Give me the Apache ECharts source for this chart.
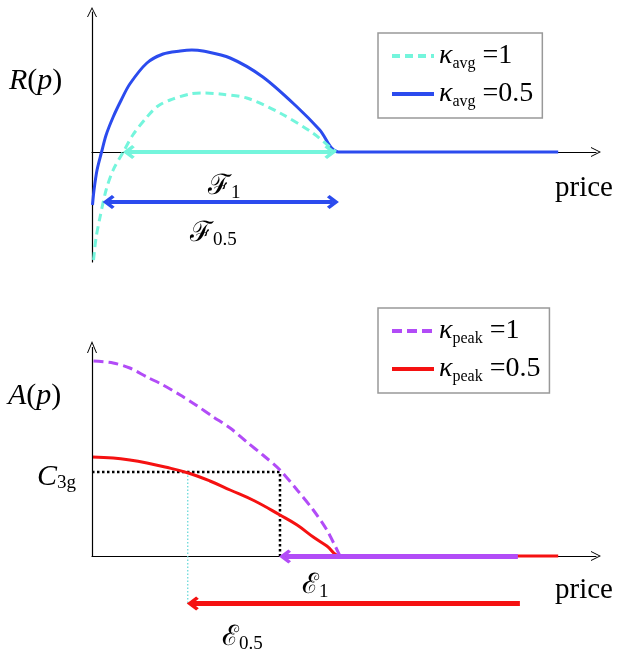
<!DOCTYPE html>
<html>
<head>
<meta charset="utf-8">
<script src="https://cdn.jsdelivr.net/npm/echarts@6/dist/echarts.min.js"></script>
<style>
html, body { margin: 0; padding: 0; background: #fff; }
#chart { width: 623px; height: 655px; }
</style>
</head>
<body>
<div id="chart"></div>
<script>
// price runs 0..100 on both panels, R(p) / A(p) in arbitrary units
const priceMax = 100

// R(p) curves, [price, R]
const revAvg1 = [
  [0.3, -108], [0.8, -86], [1.6, -65], [2.8, -38], [4.2, -18], [6.2, 0],
  [8.1, 17], [10.9, 35], [13.1, 46], [15.5, 52], [19.4, 58], [22.4, 59],
  [25.4, 58], [30.7, 54], [37.3, 39], [43.8, 19], [47.9, 2], [48.4, 0]
]
const revAvg05 = [
  [0.1, -53], [0.4, -38], [1, -18], [1.9, 0], [2.8, 17], [4.2, 35],
  [5.8, 52], [7.5, 68], [10.9, 89], [14.1, 98], [17.5, 101], [19.8, 102],
  [22, 101], [27.4, 94], [33.9, 75], [40.7, 45], [45.2, 22], [48.9, 0],
  [92.5, 0]
]

// A(p) curves, [price, A]
const accPeak1 = [
  [0.3, 195], [4.2, 193], [7.5, 188], [10.9, 179], [14.1, 171], [17.5, 161],
  [20.6, 151], [24.1, 139], [27.4, 128], [30.7, 114], [33.9, 101], [37.3, 86],
  [40.7, 66], [43.9, 46], [46.6, 26], [49.2, 0]
]
const accPeak05 = [
  [0, 99], [4.2, 98], [7.5, 96], [10.9, 93], [14.5, 89], [19.1, 83],
  [23.4, 75], [27.4, 66], [32.3, 55], [37.3, 41], [40.7, 31], [43.9, 19],
  [46.6, 10], [49.2, 0], [92.5, 0]
]

// annotations
const c3g = 84
const e1Price = 37.3
const e05Price = 19.0
const f1Range = [7.3, 47.3]
const f05Range = [3.3, 47.8]
const f05Level = -50
const eStart = 84.5
const e05Level = -47.5

const cyan = '#74F5DC'
const blue = '#2B4BEE'
const purple = '#B24CF7'
const red = '#F51111'
const serif = "'Liberation Serif', 'DejaVu Serif', serif"

// open chevrons pointing up (rotated by echarts)
const headThin = 'path://M0,10 L5,0 L10,10 L9,10 L5,2 L1,10 Z'
const headBold = 'path://M6,0 L12,7 L10,9 L6,4.5 L2,9 L0,7 Z'

const legendText = {
  avg1: '{k|κ}{s|avg}{e| =1}',
  avg05: '{k|κ}{s|avg}{e| =0.5}',
  peak1: '{k|κ}{s|peak}{e| =1}',
  peak05: '{k|κ}{s|peak}{e| =0.5}'
}
const legendRich = {
  k: { fontFamily: serif, fontStyle: 'italic', fontSize: 28, lineHeight: 32, color: '#000' },
  s: { fontFamily: serif, fontSize: 16, lineHeight: 16, padding: [16, 0, 0, 0], color: '#000' },
  e: { fontFamily: serif, fontSize: 28, lineHeight: 32, color: '#000' }
}

function makeLegend (names, top) {
  return {
    data: names,
    left: 378,
    top: top,
    orient: 'vertical',
    itemWidth: 42,
    itemHeight: 12,
    itemGap: 6,
    padding: [7, 9, 8, 12],
    borderColor: '#999',
    borderWidth: 1.5,
    selectedMode: false,
    itemStyle: { opacity: 0 },
    lineStyle: { width: 4 },
    formatter: n => legendText[n],
    textStyle: { rich: legendRich }
  }
}

function axisX (gi) {
  return {
    gridIndex: gi,
    type: 'value',
    min: 0,
    max: priceMax,
    axisLine: {
      onZero: true,
      symbol: ['none', headThin],
      symbolSize: [10, 12],
      lineStyle: { color: '#000', width: 1.2 }
    },
    axisTick: { show: false },
    axisLabel: { show: false },
    splitLine: { show: false }
  }
}

function arrow (gi, from, to, color, width, both) {
  return {
    type: 'line',
    xAxisIndex: gi,
    yAxisIndex: gi,
    data: [],
    silent: true,
    markLine: {
      silent: true,
      symbol: [both ? headBold : 'none', headBold],
      symbolSize: [14, 12],
      label: { show: false },
      emphasis: { disabled: true },
      lineStyle: { color: color, width: width, type: 'solid' },
      data: [[{ coord: from }, { coord: to }]]
    }
  }
}

function label (x, y, text, rich) {
  return {
    type: 'text',
    x: x,
    y: y,
    style: { text: text, rich: rich, verticalAlign: 'middle', align: 'left' }
  }
}

const big = { fontFamily: serif, fontSize: 30, color: '#000' }
const bigI = { fontFamily: serif, fontSize: 30, fontStyle: 'italic', color: '#000' }
const sub = { fontFamily: serif, fontSize: 19, color: '#000', padding: [12, 0, 0, 0] }
const cal = { fontFamily: "'DejaVu Serif', serif", fontSize: 28, color: '#000' }

const myChart = echarts.init(document.getElementById('chart'))
const options = {
  animation: false,
  backgroundColor: '#fff',
  grid: [
    { left: 92, right: 27, top: 12, bottom: 393 },
    { left: 92, right: 27, top: 342, bottom: 39 }
  ],
  xAxis: [axisX(0), axisX(1)],
  yAxis: [
    {
      gridIndex: 0,
      type: 'value',
      min: -110,
      max: 140,
      axisLine: {
        show: true,
        symbol: ['none', headThin],
        symbolSize: [10, 12],
        lineStyle: { color: '#000', width: 1.2 }
      },
      axisTick: { show: false },
      axisLabel: { show: false },
      splitLine: { show: false }
    },
    {
      gridIndex: 1,
      type: 'value',
      min: -60,
      max: 214,
      axisLine: { show: false },
      axisTick: { show: false },
      axisLabel: { show: false },
      splitLine: { show: false }
    }
  ],
  legend: [
    makeLegend(['avg1', 'avg05'], 33),
    makeLegend(['peak1', 'peak05'], 308)
  ],
  series: [
    {
      name: 'avg05',
      type: 'line',
      xAxisIndex: 0,
      yAxisIndex: 0,
      data: revAvg05,
      smooth: 0.3,
      symbol: 'none',
      color: blue,
      lineStyle: { color: blue, width: 3 }
    },
    {
      name: 'avg1',
      type: 'line',
      xAxisIndex: 0,
      yAxisIndex: 0,
      data: revAvg1,
      smooth: 0.3,
      symbol: 'none',
      color: cyan,
      lineStyle: { color: cyan, width: 3, type: [8, 5] }
    },
    arrow(0, [f1Range[0], 0], [f1Range[1], 0], cyan, 4, true),
    arrow(0, [f05Range[0], f05Level], [f05Range[1], f05Level], blue, 4, true),

    // y axis of the lower panel (its y range goes below zero for the arrows)
    {
      type: 'line',
      xAxisIndex: 1,
      yAxisIndex: 1,
      data: [],
      silent: true,
      markLine: {
        silent: true,
        symbol: ['none', headThin],
        symbolSize: [10, 12],
        label: { show: false },
        emphasis: { disabled: true },
        lineStyle: { color: '#000', width: 1.2, type: 'solid' },
        data: [[{ coord: [0, 0] }, { coord: [0, 209] }]]
      }
    },
    {
      name: 'c3g',
      type: 'line',
      xAxisIndex: 1,
      yAxisIndex: 1,
      data: [[0, c3g], [e1Price, c3g], [e1Price, 0]],
      symbol: 'none',
      silent: true,
      lineStyle: { color: '#000', width: 2.5, type: [2.5, 2.5] }
    },
    {
      name: 'e05drop',
      type: 'line',
      xAxisIndex: 1,
      yAxisIndex: 1,
      data: [[e05Price, c3g], [e05Price, e05Level]],
      symbol: 'none',
      silent: true,
      lineStyle: { color: '#5CD6D6', width: 1.2, type: [1.5, 2] }
    },
    {
      name: 'peak05',
      type: 'line',
      xAxisIndex: 1,
      yAxisIndex: 1,
      data: accPeak05,
      smooth: 0.4,
      symbol: 'none',
      color: red,
      lineStyle: { color: red, width: 3 }
    },
    {
      name: 'peak1',
      type: 'line',
      xAxisIndex: 1,
      yAxisIndex: 1,
      data: accPeak1,
      smooth: 0.3,
      symbol: 'none',
      color: purple,
      lineStyle: { color: purple, width: 3, type: [10, 5] }
    },
    arrow(1, [eStart, -0.5], [e1Price + 1, -0.5], purple, 5, false),
    arrow(1, [eStart + 0.4, e05Level], [e05Price + 1, e05Level], red, 5, false)
  ],
  graphic: [
    label(9, 81, '{i|R}{n|(}{i|p}{n|)}', { i: bigI, n: big }),
    label(8, 396, '{i|A}{n|(}{i|p}{n|)}', { i: bigI, n: big }),
    label(555, 188, '{n|price}', { n: { fontFamily: serif, fontSize: 29, color: '#000' } }),
    label(555, 590, '{n|price}', { n: { fontFamily: serif, fontSize: 29, color: '#000' } }),
    label(37, 477, '{i|C}{s|3g}', { i: bigI, s: sub }),
    label(208, 187, '{c|ℱ}{s|1}', { c: cal, s: sub }),
    label(190, 234, '{c|ℱ}{s|0.5}', { c: cal, s: sub }),
    label(302, 586, '{c|ℰ}{s|1}', { c: cal, s: sub }),
    label(222, 638, '{c|ℰ}{s|0.5}', { c: cal, s: sub })
  ]
}
myChart.setOption(options)
window.addEventListener('resize', () => myChart.resize())
</script>
</body>
</html>
